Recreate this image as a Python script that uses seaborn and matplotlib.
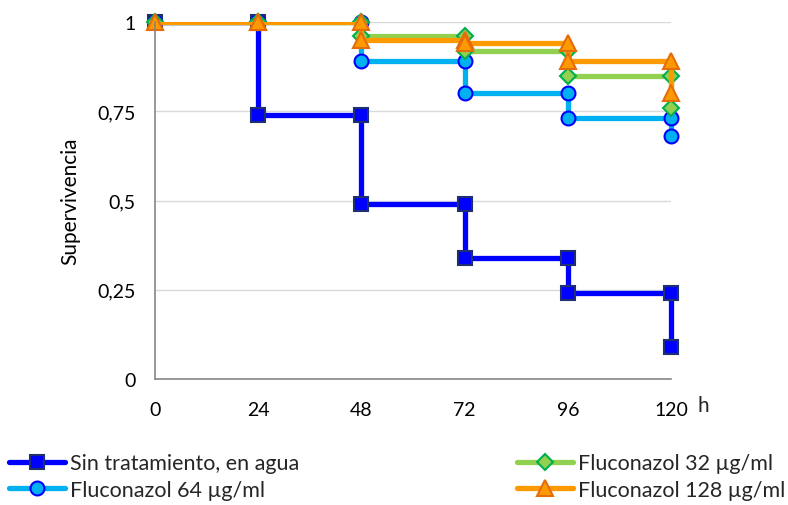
import matplotlib
matplotlib.use("Agg")
import matplotlib.pyplot as plt
import seaborn as sns
from matplotlib.lines import Line2D
from matplotlib.patches import Rectangle

hours = [0, 24, 24, 48, 48, 72, 72, 96, 96, 120, 120]
sin_tratamiento = [1, 1, 0.74, 0.74, 0.49, 0.49, 0.34, 0.34, 0.24, 0.24, 0.09]
fluco_64 = [1, 1, 1, 1, 0.89, 0.89, 0.80, 0.80, 0.73, 0.73, 0.68]
fluco_32 = [1, 1, 1, 1, 0.96, 0.96, 0.92, 0.92, 0.85, 0.85, 0.76]
fluco_128 = [1, 1, 1, 1, 0.95, 0.95, 0.94, 0.94, 0.89, 0.89, 0.80]
x_ticks = [0, 24, 48, 72, 96, 120]
y_ticks = [0, 0.25, 0.5, 0.75, 1]
y_tick_labels = ["0", "0,25", "0,5", "0,75", "1"]

sns.set_theme(style="white")
plt.rcParams['font.family'] = ['Lato', 'DejaVu Sans']

fig = plt.figure(figsize=(7.88, 5.06), dpi=100)
W, H = 788, 506
ax = fig.add_axes([155 / W, 1 - 380 / H, (671 - 155) / W, (380 - 23) / H])

series = [
    ("Sin tratamiento, en agua", sin_tratamiento, "#0000FF",
     dict(marker="s", markersize=10, markerfacecolor="#0000FF", markeredgecolor="#1F2F6F")),
    ("Fluconazol 64 µg/ml", fluco_64, "#00B0F0",
     dict(marker="o", markersize=10, markerfacecolor="#00B0F0", markeredgecolor="#0000FF")),
    ("Fluconazol 32 µg/ml", fluco_32, "#92D050",
     dict(marker="D", markersize=8, markerfacecolor="#92D050", markeredgecolor="#00B050")),
    ("Fluconazol 128 µg/ml", fluco_128, "#FF9900",
     dict(marker="^", markersize=11, markerfacecolor="#FF9900", markeredgecolor="#E46C0A")),
]

ax.set_xlim(0, 120)
ax.set_ylim(0, 1)

clip_rect = Rectangle((-10, -0.2), 140, 1.2, transform=ax.transData, facecolor="none",
                      edgecolor="none")

handles = {}
for label, vals, color, mk in series:
    n0 = len(ax.lines)
    sns.lineplot(x=hours, y=vals, ax=ax, sort=False, estimator=None, linewidth=3.8,
                 color=color)
    for ln in ax.lines[n0:]:
        ln.set_clip_path(clip_rect)
    n1 = len(ax.lines)
    sns.lineplot(x=hours, y=vals, ax=ax, sort=False, estimator=None, linestyle="",
                 color=color, markeredgewidth=1.5, **mk)
    for ln in ax.lines[n1:]:
        ln.set_clip_on(False)
    handles[label] = Line2D([], [], linewidth=3.8, color=color, markeredgewidth=1.5, **mk)

ax.set_xticks(x_ticks)
ax.set_xticklabels([str(t) for t in x_ticks])
ax.set_yticks(y_ticks)
ax.set_yticklabels(y_tick_labels)
ax.yaxis.grid(True, color="#D9D9D9", linewidth=1)
ax.xaxis.grid(False)
for s in ["top", "right"]:
    ax.spines[s].set_visible(False)
for s in ["left", "bottom"]:
    ax.spines[s].set_color("#868686")
    ax.spines[s].set_linewidth(1.2)
ax.tick_params(axis="both", which="major", length=5, width=1.2, color="#868686",
               labelsize=14, labelcolor="black", direction="out")
ax.tick_params(axis="x", pad=11)
ax.tick_params(axis="y", pad=9)
ax.set_ylabel("Supervivencia", fontsize=15, color="black", labelpad=12)
ax.set_xlabel("")
ax.annotate("h", xy=(1, 0), xycoords="axes fraction", xytext=(23, -26),
            textcoords="offset points", fontsize=15, ha="center", va="bottom")

common = dict(loc="upper left", frameon=False, fontsize=15.5, handlelength=2.6,
              handletextpad=0.2, labelspacing=0.3, borderaxespad=0, borderpad=0.2)
leg1 = fig.legend([handles["Sin tratamiento, en agua"], handles["Fluconazol 64 µg/ml"]],
                  ["Sin tratamiento, en agua", "Fluconazol 64 µg/ml"],
                  bbox_to_anchor=(5 / W, 1 - 450 / H), **common)
leg2 = fig.legend([handles["Fluconazol 32 µg/ml"], handles["Fluconazol 128 µg/ml"]],
                  ["Fluconazol 32 µg/ml", "Fluconazol 128 µg/ml"],
                  bbox_to_anchor=(513 / W, 1 - 450 / H), **common)

fig.savefig("out.png", dpi=100)
